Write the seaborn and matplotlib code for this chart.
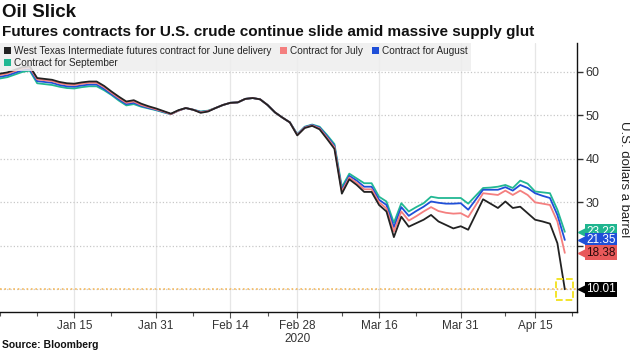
import seaborn as sns
import pandas as pd
import matplotlib.pyplot as plt
from matplotlib.patches import Patch, Rectangle
from matplotlib.transforms import blended_transform_factory

# trading days shown on the chart (NYMEX holidays removed)
holidays = ["2020-01-01", "2020-01-20", "2020-02-17", "2020-04-10"]
days = pd.bdate_range("2019-12-31", "2020-04-21", freq="C", holidays=holidays)

june = [59.6, 59.9, 60.5, 61.1, 61.3, 58.6, 58.4, 58.2, 57.7, 57.4,
        57.3, 57.6, 57.8, 57.8, 56.8, 55.5, 54.3, 53.2, 53.5, 52.7,
        52.1, 51.6, 51.0, 50.4, 51.2, 51.7, 51.3, 50.6, 50.9, 51.7,
        52.4, 52.9, 53.0, 53.8, 54.0, 53.7, 52.4, 50.7, 49.5, 48.4,
        45.4, 47.1, 47.6, 46.8, 44.6, 42.3, 32.0, 35.3, 34.0, 32.4,
        32.4, 29.4, 27.9, 22.0, 26.7, 24.4, 25.2, 26.0, 27.1, 25.6,
        24.8, 24.0, 24.5, 23.7, 27.2, 30.7, 29.7, 28.7, 30.2, 28.7,
        29.0, 27.5, 26.0, 25.6, 25.1, 20.6, 10.01]
july = [59.3, 59.6, 60.2, 60.8, 61.0, 58.3, 58.1, 57.9, 57.4, 57.1,
        57.0, 57.3, 57.5, 57.5, 56.5, 55.2, 54.0, 52.9, 53.2, 52.4,
        51.9, 51.4, 50.9, 50.3, 51.1, 51.7, 51.3, 50.7, 51.0, 51.7,
        52.4, 52.9, 53.0, 53.8, 54.0, 53.7, 52.4, 50.7, 49.5, 48.4,
        45.5, 47.2, 47.7, 47.0, 44.9, 42.7, 32.5, 35.7, 34.5, 33.0,
        33.0, 30.0, 28.6, 23.3, 27.9, 25.8, 26.8, 27.9, 28.9, 28.0,
        27.6, 27.4, 27.5, 26.6, 29.3, 32.1, 31.9, 31.7, 32.7, 31.7,
        32.7, 31.7, 30.0, 29.7, 29.4, 25.6, 18.38]
august = [58.9, 59.2, 59.8, 60.4, 60.6, 57.9, 57.7, 57.5, 57.0, 56.7,
          56.6, 56.9, 57.1, 57.1, 56.1, 54.9, 53.7, 52.6, 52.9, 52.2,
          51.7, 51.3, 50.8, 50.3, 51.1, 51.7, 51.3, 50.8, 51.0, 51.7,
          52.4, 52.9, 53.0, 53.8, 54.0, 53.7, 52.4, 50.7, 49.5, 48.4,
          45.6, 47.3, 47.8, 47.2, 45.2, 43.0, 32.9, 36.1, 35.0, 33.6,
          33.6, 30.6, 29.4, 24.3, 28.9, 26.9, 28.0, 29.0, 30.2, 29.9,
          29.7, 29.7, 29.8, 28.3, 30.6, 32.9, 32.9, 32.9, 33.5, 32.7,
          34.0, 33.3, 32.1, 31.5, 31.0, 27.1, 21.35]
september = [58.5, 58.8, 59.4, 60.0, 60.3, 57.4, 57.2, 57.0, 56.6, 56.3,
             56.2, 56.5, 56.7, 56.7, 55.8, 54.7, 53.4, 52.3, 52.6, 52.0,
             51.6, 51.2, 50.7, 50.3, 51.1, 51.7, 51.3, 50.9, 51.1, 51.7,
             52.4, 52.9, 53.0, 53.8, 54.0, 53.7, 52.4, 50.7, 49.5, 48.4,
             45.7, 47.4, 47.9, 47.4, 45.5, 43.4, 33.5, 36.6, 35.5, 34.4,
             34.4, 31.3, 30.2, 25.3, 29.8, 27.9, 28.9, 29.8, 31.3, 31.0,
             31.0, 31.0, 31.0, 29.7, 31.5, 33.3, 33.4, 33.6, 34.0, 33.3,
             35.0, 34.3, 32.5, 32.3, 32.1, 28.3, 23.22]

names = ["West Texas Intermediate futures contract for June delivery",
         "Contract for July", "Contract for August", "Contract for September"]
colors = ["#222222", "#f47f7f", "#1f4fd8", "#22b893"]
tag_colors = ["#000000", "#e8595a", "#1f4fd8", "#1fb58f"]
tag_text = ["white", "#2a0a0a", "white", "white"]

tick_dates = ["2020-01-15", "2020-01-31", "2020-02-14", "2020-02-28",
              "2020-03-16", "2020-03-31", "2020-04-15"]
tick_labels = ["Jan 15", "Jan 31", "Feb 14", "Feb 28\n2020",
               "Mar 16", "Mar 31", "Apr 15"]
y_ticks = [10, 20, 30, 40, 50, 60]
# 10 and 20 sit under the last-price tags, so they show no label
y_labels = ["", "", "30", "40", "50", "60"]

series = [june, july, august, september]
df = pd.concat([pd.DataFrame({"day": range(len(days)), "price": s, "contract": n})
                for s, n in zip(series, names)])

sns.set_theme(style="white")
plt.rcParams["font.family"] = ["Liberation Sans", "DejaVu Sans"]

fig = plt.figure(figsize=(6.3, 3.54), dpi=100)
ax = fig.add_axes([0.0, 0.119, 0.916, 0.76])

sns.lineplot(data=df, x="day", y="price", hue="contract", palette=dict(zip(names, colors)),
             hue_order=names[::-1], linewidth=1.3, legend=False, ax=ax)

ax.set_xlim(0, 77.65)
ax.set_ylim(4.8, 66.7)

pos = [days.get_loc(pd.Timestamp(d)) for d in tick_dates]
ax.set_xticks(pos)
ax.set_xticklabels(tick_labels, fontsize=8.5, color="#333333", linespacing=1.1)
ax.set_xticks([0, 5, 15, 26, 36, 46, 56, 68, 77], minor=True)
ax.set_yticks(y_ticks)
ax.set_yticklabels(y_labels)
ax.yaxis.tick_right()
ax.tick_params(axis="y", labelsize=9, colors="#333333", length=4, width=1, pad=2)
ax.tick_params(axis="x", which="both", length=3, width=0.8, color="#555555", pad=2,
               bottom=True)
ax.tick_params(axis="x", which="major", length=4)
ax.set_xlabel("")
ax.set_ylabel("")

ax.grid(axis="y", color="#c8c8c8", linestyle=":", linewidth=0.9)
ax.grid(axis="x", color="#e6e6e6", linestyle="-", linewidth=0.9)
for side in ["left", "top"]:
    ax.spines[side].set_visible(False)
for side in ["right", "bottom"]:
    ax.spines[side].set_color("#111111")
    ax.spines[side].set_linewidth(1)

# last-price markers
ax.axhline(10.01, color="#f6b95c", linestyle=":", linewidth=1.2, zorder=1)
ax.add_patch(Rectangle((74.8, 7.6), 2.3, 4.8, fill=False, edgecolor="#f2e21a",
                       linestyle="--", linewidth=1.3, zorder=5))

trans = blended_transform_factory(ax.transAxes, ax.transData)
for i in [3, 2, 1, 0]:
    last = series[i][-1]
    ax.plot([1.01], [last], marker="<", markersize=6.5, color=tag_colors[i],
            transform=trans, clip_on=False, zorder=10 + (3 - i))
    ax.text(1.016, last, f"{last:.2f}", transform=trans, va="center", ha="left",
            fontsize=8.5, color=tag_text[i], zorder=10 + (3 - i),
            bbox=dict(boxstyle="square,pad=0.12", fc=tag_colors[i], ec="none"))

handles = [Patch(facecolor=c, edgecolor="none") for c in colors]
order = [0, 3, 1, 2]
leg = ax.legend([handles[i] for i in order], [names[i] for i in order], ncol=3,
                loc="upper left", bbox_to_anchor=(0.0, 1.0), frameon=True,
                prop={"size": 7.2}, handlelength=0.7, handleheight=0.7,
                handletextpad=0.3, columnspacing=0.9, labelspacing=0.15,
                borderpad=0.35, borderaxespad=0.0, fancybox=False)
leg.get_frame().set_facecolor("#eeeeee")
leg.get_frame().set_edgecolor("none")
leg.get_frame().set_alpha(0.85)

fig.text(0.003, 0.99, "Oil Slick", fontsize=13.5, fontweight="bold", va="top", ha="left",
         color="#111111")
fig.text(0.003, 0.93, "Futures contracts for U.S. crude continue slide amid massive supply glut",
         fontsize=11, fontweight="bold", va="top", ha="left", color="#111111")
fig.text(0.99, 0.494, "U.S. dollars a barrel", rotation=270, va="center", ha="center",
         fontsize=9.5, color="#222222")
fig.text(0.003, 0.025, "Source: Bloomberg", fontsize=7.5, fontweight="bold",
         va="center", ha="left", color="#111111")

plt.savefig("out.png", dpi=100)
